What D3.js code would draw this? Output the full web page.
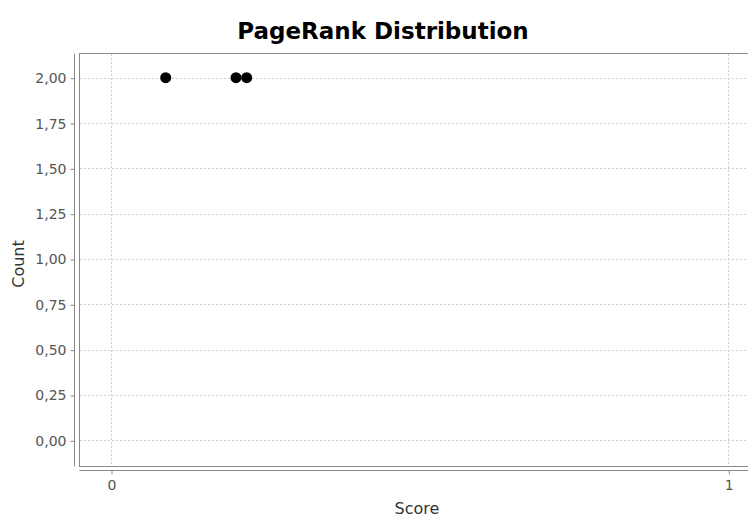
<!DOCTYPE html>
<html>
<head>
<meta charset="utf-8">
<script src="https://cdn.jsdelivr.net/npm/d3@7"></script>
<style>
  body { margin: 0; background: #fff; }
  text { font-family: "DejaVu Sans", Tahoma, sans-serif; }
</style>
</head>
<body>
<div id="chart"></div>
<script>
// data
var scores = [0.0886, 0.2025, 0.2198];
var counts = [2, 2, 2];
var yTicks = [0, 0.25, 0.5, 0.75, 1, 1.25, 1.5, 1.75, 2];
var xTicks = [0, 1];

const w = 748;
const h = 518;

var svg = d3.select("#chart")
  .append("svg")
  .attr("width", w)
  .attr("height", h);

// plot area (right side runs off the picture)
var pLeft = 79, pTop = 53, pRight = 760, pBottom = 466;

var x = d3.scaleLinear().domain([0, 1]).range([111, 728.3]);
var y = d3.scaleLinear().domain([0, 2]).range([440.3, 77.7]);

var fmt = function (d) { return d3.format(".2f")(d).replace(".", ","); };

svg.append("rect")
  .attr("x", pLeft + 0.5).attr("y", pTop + 0.5)
  .attr("width", pRight - pLeft).attr("height", pBottom - pTop)
  .attr("fill", "#fff")
  .attr("stroke", "#8a8a8a");

// gridlines
svg.append("g").selectAll("line")
  .data(yTicks).enter().append("line")
  .attr("x1", pLeft + 1).attr("x2", w)
  .attr("y1", d => Math.round(y(d)) + 0.5).attr("y2", d => Math.round(y(d)) + 0.5)
  .attr("stroke", "#cfcfcf")
  .attr("stroke-dasharray", "2,2");

svg.append("g").selectAll("line")
  .data(xTicks).enter().append("line")
  .attr("x1", d => Math.round(x(d)) + 0.5).attr("x2", d => Math.round(x(d)) + 0.5)
  .attr("y1", pTop + 1).attr("y2", pBottom)
  .attr("stroke", "#cfcfcf")
  .attr("stroke-dasharray", "2,2");

// y axis
var yAxis = d3.axisLeft(y).tickValues(yTicks).tickFormat(fmt).tickSize(4).tickPadding(4);
var gy = svg.append("g")
  .attr("transform", "translate(74.5,0.5)")
  .call(yAxis)
  .attr("font-size", 14)
  .attr("font-family", null);
gy.select(".domain").attr("d", "M0," + pTop + "V" + pBottom).attr("stroke", "#8a8a8a");
gy.selectAll(".tick line").attr("stroke", "#8a8a8a");
gy.selectAll(".tick text").attr("fill", "#555");

// x axis
var xAxis = d3.axisBottom(x).tickValues(xTicks).tickFormat(d3.format("d")).tickSize(4).tickPadding(6);
var gx = svg.append("g")
  .attr("transform", "translate(0.5,470.5)")
  .call(xAxis)
  .attr("font-size", 14)
  .attr("font-family", null);
gx.select(".domain").attr("d", "M" + pLeft + ",0H" + w).attr("stroke", "#8a8a8a");
gx.selectAll(".tick line").attr("stroke", "#8a8a8a");
gx.selectAll(".tick text").attr("fill", "#555");

// points
svg.append("g").selectAll("circle")
  .data(scores).enter().append("circle")
  .attr("cx", d => x(d))
  .attr("cy", (d, i) => y(counts[i]))
  .attr("r", 5.5)
  .attr("fill", "#000");

// labels
svg.append("text")
  .attr("x", 383).attr("y", 39)
  .attr("text-anchor", "middle")
  .style("font-size", "23px").style("font-weight", "bold")
  .text("PageRank Distribution");

svg.append("text")
  .attr("x", 417).attr("y", 514)
  .attr("text-anchor", "middle")
  .attr("fill", "#333")
  .style("font-size", "16px")
  .text("Score");

svg.append("text")
  .attr("transform", "translate(24,264) rotate(-90)")
  .attr("text-anchor", "middle")
  .attr("fill", "#333")
  .style("font-size", "16px")
  .text("Count");
</script>
</body>
</html>
